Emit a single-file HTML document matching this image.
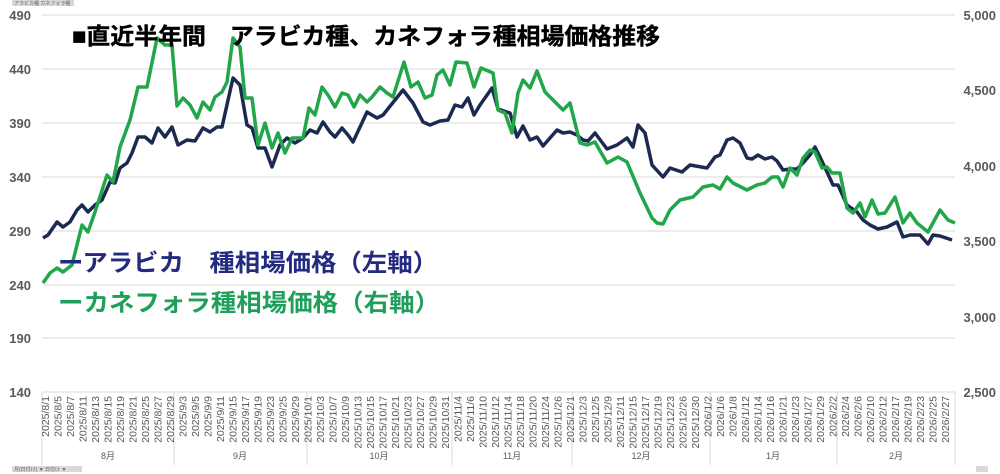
<!DOCTYPE html>
<html><head><meta charset="utf-8"><style>
html,body{margin:0;padding:0;background:#fff;}
svg{display:block;font-family:"Liberation Sans","Noto Sans CJK JP",sans-serif;}
</style></head><body>
<svg width="1000" height="474" viewBox="0 0 1000 474" xmlns="http://www.w3.org/2000/svg">
<rect width="1000" height="474" fill="#fff"/>
<rect x="12" y="0" width="62" height="6" fill="#d9d9d9"/>
<text x="14" y="5" font-size="5" fill="#666">アラビカ種 カネフォラ種</text>
<rect x="12" y="466" width="70" height="6" fill="#d9d9d9"/>
<text x="14" y="471" font-size="5" fill="#666">月(日付け) ▼ 日付け ▼</text>
<rect x="976" y="466" width="12" height="6" fill="#d9d9d9"/>
<g stroke="#d9d9d9" stroke-width="1">
<line x1="42" y1="15" x2="955" y2="15"/><line x1="42" y1="69" x2="955" y2="69"/><line x1="42" y1="123" x2="955" y2="123"/><line x1="42" y1="177" x2="955" y2="177"/><line x1="42" y1="231" x2="955" y2="231"/><line x1="42" y1="285" x2="955" y2="285"/><line x1="42" y1="338" x2="955" y2="338"/><line x1="42" y1="392" x2="955" y2="392"/>
<line x1="42" y1="392" x2="42" y2="465"/><line x1="174" y1="392" x2="174" y2="465"/><line x1="307" y1="392" x2="307" y2="465"/><line x1="452" y1="392" x2="452" y2="465"/><line x1="572" y1="392" x2="572" y2="465"/><line x1="710" y1="392" x2="710" y2="465"/><line x1="837" y1="392" x2="837" y2="465"/><line x1="955" y1="392" x2="955" y2="465"/>
</g>
<g font-size="13" font-weight="bold" fill="#595959" text-anchor="end">
<text x="31" y="20">490</text><text x="31" y="74">440</text><text x="31" y="128">390</text><text x="31" y="182">340</text><text x="31" y="236">290</text><text x="31" y="290">240</text><text x="31" y="343">190</text><text x="31" y="397">140</text>
</g>
<g font-size="13" font-weight="bold" fill="#595959" text-anchor="end">
<text x="996" y="20">5,000</text><text x="996" y="95">4,500</text><text x="996" y="171">4,000</text><text x="996" y="246">3,500</text><text x="996" y="322">3,000</text><text x="996" y="397">2,500</text>
</g>
<g font-size="9" fill="#595959" text-anchor="middle">
<text x="108" y="459">8月</text><text x="240" y="459">9月</text><text x="379" y="459">10月</text><text x="512" y="459">11月</text><text x="641" y="459">12月</text><text x="773" y="459">1月</text><text x="896" y="459">2月</text>
</g>
<g id="dates" font-size="10.5" fill="#595959" text-anchor="end"></g>
<polyline fill="none" stroke="#1c2a52" stroke-width="3.5" stroke-linejoin="round" points="43,238 48,235 57,222 63,227 70,222 77,210 82,205 88,212 95,205 102,200 110,182 115,183 120,168 127,163 132,153 138,137 145,137 152,143 158,128 165,137 172,127 178,145 187,140 195,141 203,128 210,132 217,127 222,127 233,78 240,85 247,125 252,128 258,148 265,148 272,167 280,145 287,138 295,143 303,138 310,130 317,133 323,122 330,132 335,137 342,128 348,135 353,142 360,127 367,112 377,118 383,115 403,90 413,103 423,122 430,125 440,121 448,120 455,105 462,107 468,98 474,115 480,105 492,88 498,109 510,113 517,137 523,126 530,140 537,137 543,146 557,130 563,133 570,132 577,135 583,140 588,141 595,133 607,149 617,145 627,138 633,147 638,125 645,133 652,165 663,177 670,168 682,172 690,165 707,168 715,157 720,155 727,140 733,138 740,143 747,158 752,159 758,155 765,159 772,157 777,161 783,170 790,169 797,169 803,163 810,155 815,147 820,157 827,172 833,185 838,185 847,205 857,212 863,220 870,225 878,229 887,227 897,222 903,237 910,235 920,235 928,244 933,235 940,236 952,240"/>
<polyline fill="none" stroke="#22a64a" stroke-width="3.5" stroke-linejoin="round" points="43,283 50,273 57,268 63,272 72,265 82,225 88,232 95,212 107,175 113,182 120,147 130,120 138,87 147,87 157,38 165,45 172,45 177,106 183,98 190,105 197,118 203,102 210,110 215,97 222,92 227,82 233,38 240,47 245,98 252,98 258,145 265,123 272,148 278,133 285,153 292,138 303,138 309,108 315,115 322,87 328,95 335,107 342,93 348,95 354,107 360,95 367,102 372,97 380,87 387,93 393,97 404,62 411,87 418,82 425,98 432,95 437,75 443,70 450,85 456,62 467,63 474,87 481,68 493,73 498,110 505,113 512,133 518,93 523,80 530,88 537,71 545,92 563,110 570,103 580,143 587,145 595,142 607,163 618,157 627,162 640,193 652,218 657,223 663,224 670,210 680,200 693,197 703,187 713,185 720,189 727,177 733,183 747,190 757,185 765,183 772,177 778,177 783,187 790,168 797,175 803,158 810,150 815,152 822,168 827,167 832,173 840,173 847,208 853,213 860,203 865,217 872,200 878,214 885,213 895,197 903,223 910,213 917,223 928,232 940,210 948,220 955,223"/>
<text x="72" y="44" font-size="23" font-weight="bold" fill="#000" stroke="#000" stroke-width="0.4" textLength="588" lengthAdjust="spacingAndGlyphs">■直近半年間　アラビカ種、カネフォラ種相場価格推移</text>
<text x="58" y="271" font-size="24" font-weight="bold" fill="#232a80" textLength="380" lengthAdjust="spacingAndGlyphs">ーアラビカ　種相場価格（左軸）</text>
<text x="58" y="311" font-size="24" font-weight="bold" fill="#1ea05a" textLength="382" lengthAdjust="spacingAndGlyphs">ーカネフォラ種相場価格（右軸）</text>
<script>
var L=[["2025/8/",[1,5,7,11,13,15,19,21,25,27,29]],["2025/9/",[3,5,9,11,15,17,19,23,25,29]],["2025/10/",[1,3,7,9,13,15,17,21,23,27,29,31]],["2025/11/",[4,6,10,12,14,18,20,24,26]],["2025/12/",[1,3,5,9,11,15,17,19,23,26,30]],["2026/1/",[2,6,8,12,14,16,21,23,27,29]],["2026/2/",[2,4,6,10,12,17,19,23,25,27]]];
var g=document.getElementById("dates"),i=0,ns="http://www.w3.org/2000/svg";
L.forEach(function(m){m[1].forEach(function(d){var x=45.5+i*12.5;var t=document.createElementNS(ns,"text");t.setAttribute("transform","translate("+(x+3.5)+",396) rotate(-90)");t.textContent=m[0]+d;g.appendChild(t);i++;});});
</script>
</svg>
</body></html>
